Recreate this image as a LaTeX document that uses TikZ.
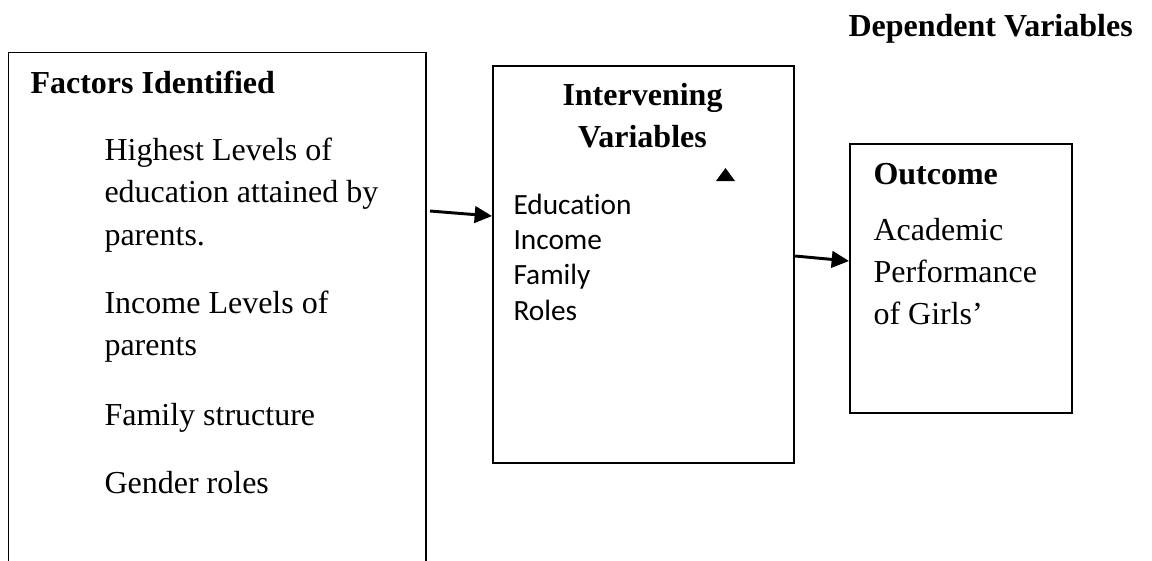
\documentclass[tikz,border=0pt]{standalone}
\usepackage{fontspec}
\setmainfont{Liberation Serif}
\newfontfamily\calibri[Ligatures=NoCommon]{Carlito}
\usetikzlibrary{arrows.meta}

\begin{document}
\begin{tikzpicture}[x=0.375pt, y=-0.375pt, >={Triangle[length=6.5pt, width=6.2pt]}, every node/.style={inner sep=0pt, font=\fontsize{12}{14}\selectfont}]
    % styles
    \tikzstyle{panel} = [rectangle, draw=black, line width=0.8pt, anchor=north west]
    \tikzstyle{head} = [anchor=base west, font=\fontsize{12}{14}\selectfont\bfseries]
    \tikzstyle{item} = [anchor=base west]
    \tikzstyle{var} = [anchor=base west, font=\calibri\fontsize{11}{13}\selectfont]
    \tikzstyle{arrow} = [line width=1.1pt, ->]

    \useasboundingbox (0,0) rectangle (1152,560);
    \clip (0,0) rectangle (1152,560);

    % boxes
    \node[panel, line width=0.55pt, minimum width=156.4pt, minimum height=206pt] (fact) at (8,52) {};
    \node[panel, minimum width=112.9pt, minimum height=148.9pt] (inter) at (492,65) {};
    \node[panel, minimum width=83.25pt, minimum height=100.9pt] (outc) at (849,143) {};

    % headings
    \node[head] (dep) at (848,36) {Dependent Variables};
    \node[head] (factH) at (30,93) {Factors Identified};
    \node[head, anchor=base] (interH1) at (642.5,105) {Intervening};
    \node[head, anchor=base] (interH2) at (642.5,147) {Variables};
    \node[head] (outcH) at (873,184) {Outcome};

    % box contents
    \foreach \txt/\y [count=\i] in {Highest Levels of/160, education attained by/202, parents./245, Income Levels of/313, parents/355, Family structure/425, Gender roles/493}
        \node[item] (fact\i) at (104,\y) {\txt};
    \foreach \txt/\y [count=\i] in {Education/214, Income/249, Family/284, Roles/320}
        \node[var] (inter\i) at (513,\y) {\txt};
    \foreach \txt/\y [count=\i] in {Academic/240, Performance/282, of Girls’/324}
        \node[item] (outc\i) at (873,\y) {\txt};

    \fill (716,181) -- (735,181) -- (725.5,168) -- cycle;

    % arrows
    \coordinate (a1) at (430,211);
    \draw[arrow] (a1) -- (inter.west |- 0,216);
    \draw[arrow] (inter.east |- 0,256) -- (outc.west |- 0,261);
\end{tikzpicture}
\end{document}
